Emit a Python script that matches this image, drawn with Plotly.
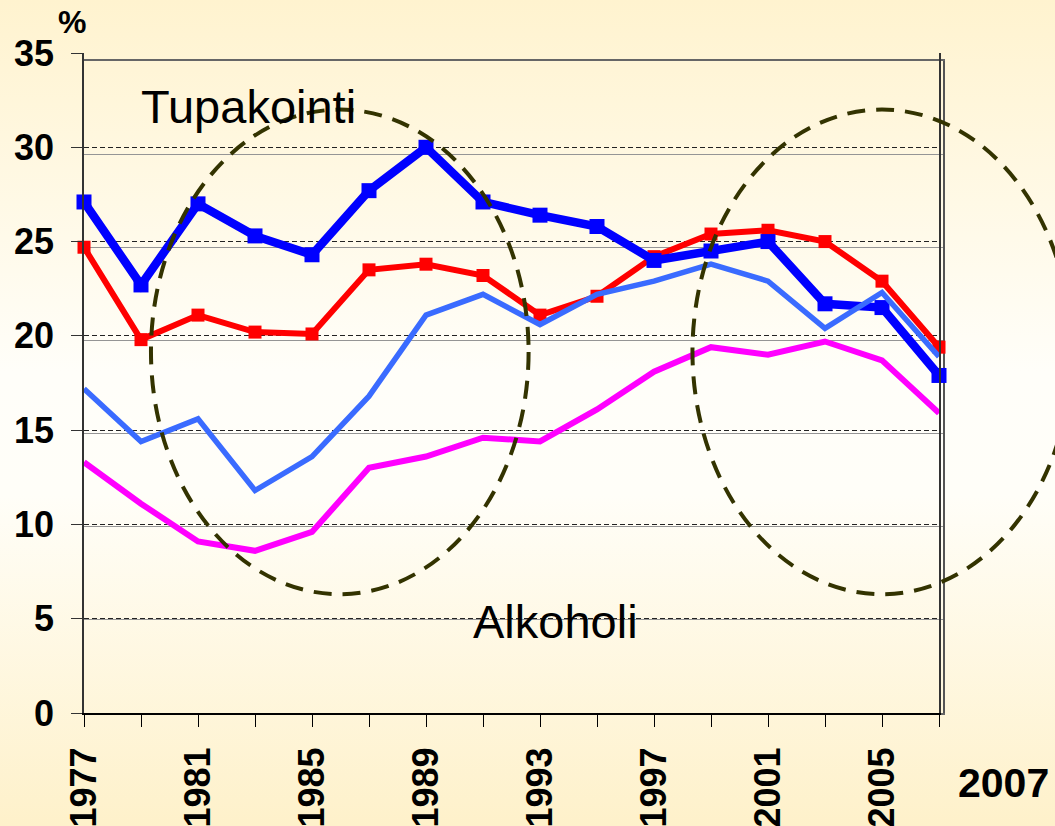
import base64
import plotly.graph_objects as go

# survey years and the four series (percent)
years = [1977, 1979, 1981, 1983, 1985, 1987, 1989, 1991,
         1993, 1995, 1997, 1999, 2001, 2003, 2005, 2007]
smoking_men = [27.1, 22.7, 27.0, 25.3, 24.3, 27.7, 30.0, 27.1,
               26.4, 25.8, 24.0, 24.5, 25.0, 21.7, 21.5, 17.9]
smoking_women = [24.7, 19.8, 21.1, 20.2, 20.1, 23.5, 23.8, 23.2,
                 21.1, 22.1, 24.2, 25.4, 25.6, 25.0, 22.9, 19.4]
alcohol_men = [17.2, 14.4, 15.6, 11.8, 13.6, 16.8, 21.1, 22.2,
               20.6, 22.2, 22.9, 23.8, 22.9, 20.4, 22.3, 18.9]
alcohol_women = [13.3, 11.1, 9.1, 8.6, 9.6, 13.0, 13.6, 14.6,
                 14.4, 16.1, 18.1, 19.4, 19.0, 19.7, 18.7, 15.9]

y_ticks = [0, 5, 10, 15, 20, 25, 30, 35]

# dashed ellipses (year span, percent span)
ellipses = [(1979.35, 1992.6, 6.3, 32.0), (1998.35, 2011.65, 6.3, 32.0)]

W, H = 1055, 826
L, R, T, B = 84, 112, 53, 113
PW, PH = W - L - R, H - T - B
x2_end = (939 - L) / PW
y1_end = (713 - 61) / PH
x_range = [years[0], years[-1]]
y_range = [0, 35]


def to_paper_x(year):
    return x2_end * (year - x_range[0]) / (x_range[1] - x_range[0])


def to_paper_y(pct):
    return (pct - y_range[0]) / (y_range[1] - y_range[0])


def px_x(p):
    return (p - L) / PW


def px_y(p):
    return (H - B - p) / PH


# background gradient as an svg image
svg = ('<svg xmlns="http://www.w3.org/2000/svg" width="%d" height="%d">'
       '<defs><linearGradient id="g" x1="0" y1="0" x2="0" y2="1">'
       '<stop offset="0" stop-color="#FFF3CF"/>'
       '<stop offset="0.45" stop-color="#FFFEF9"/>'
       '<stop offset="0.6" stop-color="#FFFEF8"/>'
       '<stop offset="1" stop-color="#FEF1CA"/>'
       '</linearGradient></defs>'
       '<rect width="100%%" height="100%%" fill="url(#g)"/></svg>') % (W, H)
bg_src = 'data:image/svg+xml;base64,' + base64.b64encode(svg.encode()).decode()

fig = go.Figure()

# empty trace so the back grid subplot exists
fig.add_trace(go.Scatter(x=[], y=[], xaxis='x', yaxis='y', showlegend=False))

fig.add_trace(go.Scatter(x=years, y=alcohol_women, mode='lines', xaxis='x2', yaxis='y2',
                         line=dict(color='#FF00FF', width=6), cliponaxis=False))
fig.add_trace(go.Scatter(x=years, y=smoking_women, mode='lines+markers', xaxis='x2', yaxis='y2',
                         line=dict(color='#FF0000', width=6),
                         marker=dict(symbol='square', size=13, color='#FF0000'),
                         cliponaxis=False))
fig.add_trace(go.Scatter(x=years, y=smoking_men, mode='lines+markers', xaxis='x2', yaxis='y2',
                         line=dict(color='#0000FF', width=8.5),
                         marker=dict(symbol='square', size=15, color='#0000FF'),
                         cliponaxis=False))
fig.add_trace(go.Scatter(x=years, y=alcohol_men, mode='lines', xaxis='x2', yaxis='y2',
                         line=dict(color='#3A6BFF', width=5.5), cliponaxis=False))

shapes = []
for x0, x1, y0, y1 in ellipses:
    shapes.append(dict(type='circle', xref='paper', yref='paper',
                       x0=to_paper_x(x0), x1=to_paper_x(x1),
                       y0=to_paper_y(y0), y1=to_paper_y(y1),
                       line=dict(color='#333300', width=4, dash='18px,11px'),
                       layer='above'))

font = 'Liberation Sans, Arial, sans-serif'

fig.update_layout(
    width=W, height=H, autosize=False,
    margin=dict(l=L, r=R, t=T, b=B, autoexpand=False),
    paper_bgcolor='#FFFDF2', plot_bgcolor='rgba(0,0,0,0)',
    showlegend=False,
    font=dict(family=font, color='black'),
    images=[dict(source=bg_src, xref='paper', yref='paper',
                 x=-L / PW, y=1 + T / PH, sizex=W / PW, sizey=H / PH,
                 sizing='stretch', xanchor='left', yanchor='top', layer='below')],
    xaxis=dict(domain=[0, 1], range=x_range, showgrid=False, showticklabels=False,
               ticks='', showline=True, mirror=True, linecolor='#666666', linewidth=1.5,
               zeroline=False, automargin=False),
    yaxis=dict(domain=[0, y1_end], range=y_range, tickvals=y_ticks, showticklabels=False,
               ticks='', showgrid=True, gridcolor='#959595', gridwidth=1.3,
               showline=True, mirror=True, linecolor='#555555', linewidth=1.5,
               zeroline=False, automargin=False),
    xaxis2=dict(domain=[0, x2_end], range=x_range, anchor='y2',
                tick0=1977, dtick=4, tickangle=-90, ticks='outside', ticklen=12,
                tickcolor='black', tickwidth=1.2,
                minor=dict(dtick=2, tick0=1977, ticks='outside', ticklen=12,
                           tickcolor='black', tickwidth=1.2),
                tickfont=dict(size=36, family=font, weight='bold'),
                ticklabelstandoff=6,
                showgrid=False, showline=True, linecolor='black', linewidth=2,
                zeroline=False, automargin=False),
    yaxis2=dict(domain=[0, 1], range=y_range, anchor='x2', tickvals=y_ticks,
                ticks='outside', ticklen=11, tickcolor='#333333',
                tickfont=dict(size=36, family=font, weight='bold'),
                ticklabelstandoff=10,
                showgrid=True, gridcolor='#222222', gridwidth=1, griddash='5px,3px',
                showline=True, mirror=True, linecolor='#333333', linewidth=1.5,
                zeroline=False, automargin=False),
    shapes=shapes,
    annotations=[
        dict(text='%', xref='paper', yref='paper', x=px_x(72), y=px_y(22),
             xanchor='center', yanchor='middle', showarrow=False,
             font=dict(size=32, family=font, weight='bold')),
        dict(text='Tupakointi', xref='paper', yref='paper', x=px_x(139), y=px_y(106),
             xanchor='left', yanchor='middle', showarrow=False,
             font=dict(size=47, family=font)),
        dict(text='Alkoholi', xref='paper', yref='paper', x=px_x(471), y=px_y(621),
             xanchor='left', yanchor='middle', showarrow=False,
             font=dict(size=47, family=font)),
        dict(text='2007', xref='paper', yref='paper', x=px_x(956), y=px_y(783),
             xanchor='left', yanchor='middle', showarrow=False,
             font=dict(size=41, family=font, weight='bold')),
    ],
)

# the page has a default 8px body margin; drop it so the figure sits at 0,0
fig.write_html("out.html", config={'displayModeBar': False},
               post_script="document.body.style.margin='0';document.body.style.padding='0';")
